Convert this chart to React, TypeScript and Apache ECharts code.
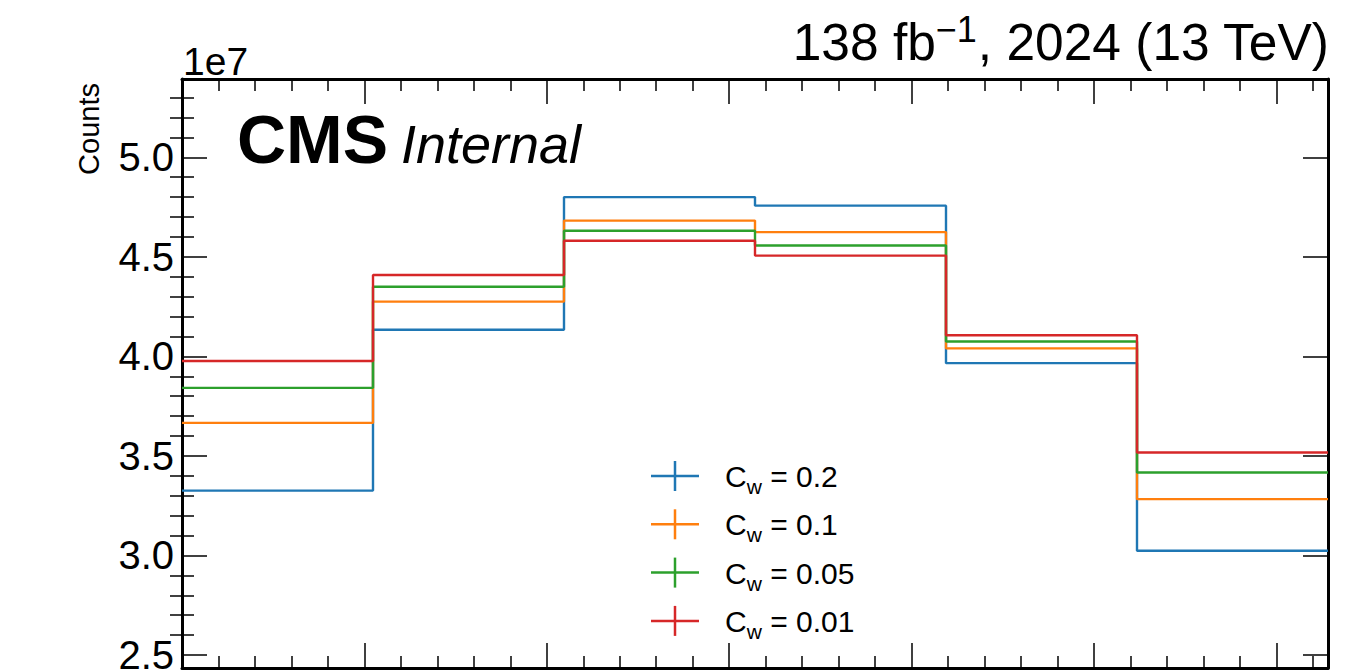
import React, { useEffect, useRef } from "react";
import * as echarts from "echarts";

// ---------------- data ----------------
const binEdges = [0, 1.0472, 2.0944, 3.1416, 4.1888, 5.236, 6.2832];
const xMax = 6.2832;
const seriesLabels = ["0.2", "0.1", "0.05", "0.01"];
const seriesColors = ["#1f77b4", "#ff7f0e", "#2ca02c", "#d62728"];
const countsCw02 = [3.326e7, 4.134e7, 4.8e7, 4.757e7, 3.966e7, 3.024e7];
const countsCw01 = [3.666e7, 4.275e7, 4.682e7, 4.624e7, 4.04e7, 3.283e7];
const countsCw005 = [3.842e7, 4.35e7, 4.631e7, 4.557e7, 4.075e7, 3.417e7];
const countsCw001 = [3.977e7, 4.409e7, 4.581e7, 4.506e7, 4.106e7, 3.517e7];
const allCounts = [countsCw02, countsCw01, countsCw005, countsCw001];

const yMin = 2.435e7;
const yMax = 5.393e7;
const yMajorTicks = [2.5e7, 3.0e7, 3.5e7, 4.0e7, 4.5e7, 5.0e7];
const yMinorTicks = [
  2.6e7, 2.7e7, 2.8e7, 2.9e7, 3.1e7, 3.2e7, 3.3e7, 3.4e7, 3.6e7, 3.7e7, 3.8e7, 3.9e7,
  4.1e7, 4.2e7, 4.3e7, 4.4e7, 4.6e7, 4.7e7, 4.8e7, 4.9e7, 5.1e7, 5.2e7, 5.3e7,
];
const xMajorTicks = [0, 1, 2, 3, 4, 5, 6];
const xMinorTicks = [
  0.2, 0.4, 0.6, 0.8, 1.2, 1.4, 1.6, 1.8, 2.2, 2.4, 2.6, 2.8, 3.2, 3.4, 3.6, 3.8,
  4.2, 4.4, 4.6, 4.8, 5.2, 5.4, 5.6, 5.8, 6.2,
];

const FONT = '"Liberation Sans", Arial, Helvetica, sans-serif';

function measure(text: string, font: string): number {
  const ctx = document.createElement("canvas").getContext("2d");
  if (!ctx) return text.length * 10;
  ctx.font = font;
  return ctx.measureText(text).width;
}

function textEl(
  text: string,
  x: number,
  y: number,
  size: number,
  align: string,
  extra: any = {}
) {
  const weight = extra.weight || "normal";
  const fstyle = extra.fontStyle || "normal";
  return {
    type: "text",
    x,
    y,
    rotation: extra.rotation || 0,
    silent: true,
    style: {
      text,
      fill: "#000",
      font: `${fstyle} ${weight} ${size}px ${FONT}`,
      align,
      verticalAlign: "middle",
      textAlign: align,
      textVerticalAlign: "middle",
    },
  };
}

export default function App() {
  const ref = useRef<HTMLDivElement>(null);

  useEffect(() => {
    document.body.style.margin = "0";
    if (!ref.current) return;
    const chart = echarts.init(ref.current, null, { renderer: "svg" });

    const majorTick = { show: true, inside: true, length: 25, lineStyle: { color: "#000", width: 1.5 } };
    const minorTick = { show: true, inside: true, length: 12, lineStyle: { color: "#000", width: 1.5 } };
    const spine = { show: true, onZero: false, lineStyle: { color: "#000", width: 3 } };

    const xAxisBase = { type: "value", min: 0, max: xMax, splitLine: { show: false }, axisLabel: { show: false } };
    const yAxisBase = { type: "value", min: yMin, max: yMax, splitLine: { show: false } };

    const xAxes = [
      { ...xAxisBase, position: "bottom", axisLine: spine, axisTick: { ...majorTick, customValues: xMajorTicks } },
      { ...xAxisBase, position: "bottom", axisLine: { show: false }, axisTick: { ...minorTick, customValues: xMinorTicks } },
      { ...xAxisBase, position: "top", axisLine: spine, axisTick: { ...majorTick, customValues: xMajorTicks } },
      { ...xAxisBase, position: "top", axisLine: { show: false }, axisTick: { ...minorTick, customValues: xMinorTicks } },
    ];
    const yAxes = [
      {
        ...yAxisBase,
        position: "left",
        axisLine: spine,
        axisTick: { ...majorTick, customValues: yMajorTicks },
        axisLabel: {
          show: true,
          customValues: yMajorTicks,
          margin: 8,
          color: "#000",
          fontSize: 40,
          fontFamily: FONT,
          formatter: (v: number) => (v / 1e7).toFixed(1),
        },
      },
      { ...yAxisBase, position: "left", axisLine: { show: false }, axisTick: { ...minorTick, customValues: yMinorTicks }, axisLabel: { show: false } },
      { ...yAxisBase, position: "right", axisLine: spine, axisTick: { ...majorTick, customValues: yMajorTicks }, axisLabel: { show: false } },
      { ...yAxisBase, position: "right", axisLine: { show: false }, axisTick: { ...minorTick, customValues: yMinorTicks }, axisLabel: { show: false } },
    ];

    const series = allCounts.map((vals, si) => ({
      type: "line",
      name: "C_w = " + seriesLabels[si],
      step: "end",
      xAxisIndex: 0,
      yAxisIndex: 0,
      showSymbol: false,
      symbol: "none",
      silent: true,
      clip: true,
      lineStyle: { color: seriesColors[si], width: 2.4 },
      itemStyle: { color: seriesColors[si] },
      data: binEdges.map((x, i) => [x, vals[Math.min(i, vals.length - 1)]]),
    }));

    // header texts
    const graphics: any[] = [];
    const rightEdge = 1329;
    const hSize = 51.5;
    const sSize = 36;
    const tail = ", 2024 (13 TeV)";
    const wTail = measure(tail, `${hSize}px ${FONT}`);
    const wSup = measure("\u22121", `${sSize}px ${FONT}`);
    graphics.push(textEl(tail, rightEdge, 42.2, hSize, "right"));
    graphics.push(textEl("\u22121", rightEdge - wTail, 29.2, sSize, "right"));
    graphics.push(textEl("138 fb", rightEdge - wTail - wSup, 42.2, hSize, "right"));
    graphics.push(textEl("1e7", 183, 61, 39, "left"));
    graphics.push(textEl("CMS", 237, 138.5, 68, "left", { weight: "bold" }));
    graphics.push(textEl("Internal", 401, 144, 54, "left", { fontStyle: "italic" }));
    graphics.push(textEl("Counts", 89, 83, 29, "right", { rotation: Math.PI / 2 }));

    // legend
    const legX0 = 651;
    const legX1 = 699;
    const legXc = 675;
    const legY0 = 476;
    const legDy = 48.3;
    const textX = 725;
    const lSize = 30;
    const subSize = 21;
    const wC = measure("C", `${lSize}px ${FONT}`);
    const wW = measure("w", `${subSize}px ${FONT}`);
    seriesLabels.forEach((lab, i) => {
      const y = legY0 + i * legDy;
      graphics.push({
        type: "line",
        silent: true,
        shape: { x1: legX0, y1: y, x2: legX1, y2: y },
        style: { stroke: seriesColors[i], lineWidth: 2.5 },
      });
      graphics.push({
        type: "line",
        silent: true,
        shape: { x1: legXc, y1: y - 15, x2: legXc, y2: y + 15 },
        style: { stroke: seriesColors[i], lineWidth: 2.5 },
      });
      graphics.push(textEl("C", textX, y + 0.5, lSize, "left"));
      graphics.push(textEl("w", textX + wC, y + 10.5, subSize, "left"));
      graphics.push(textEl(" = " + lab, textX + wC + wW, y + 0.5, lSize, "left"));
    });

    chart.setOption({
      animation: false,
      backgroundColor: "#fff",
      grid: { left: 182, right: 25, top: 79, bottom: 4, containLabel: false, outerBoundsMode: "none" },
      xAxis: xAxes,
      yAxis: yAxes,
      series,
      graphic: { elements: graphics },
    } as any);

    return () => chart.dispose();
  }, []);

  return <div ref={ref} style={{ width: 1353, height: 672 }} />;
}
